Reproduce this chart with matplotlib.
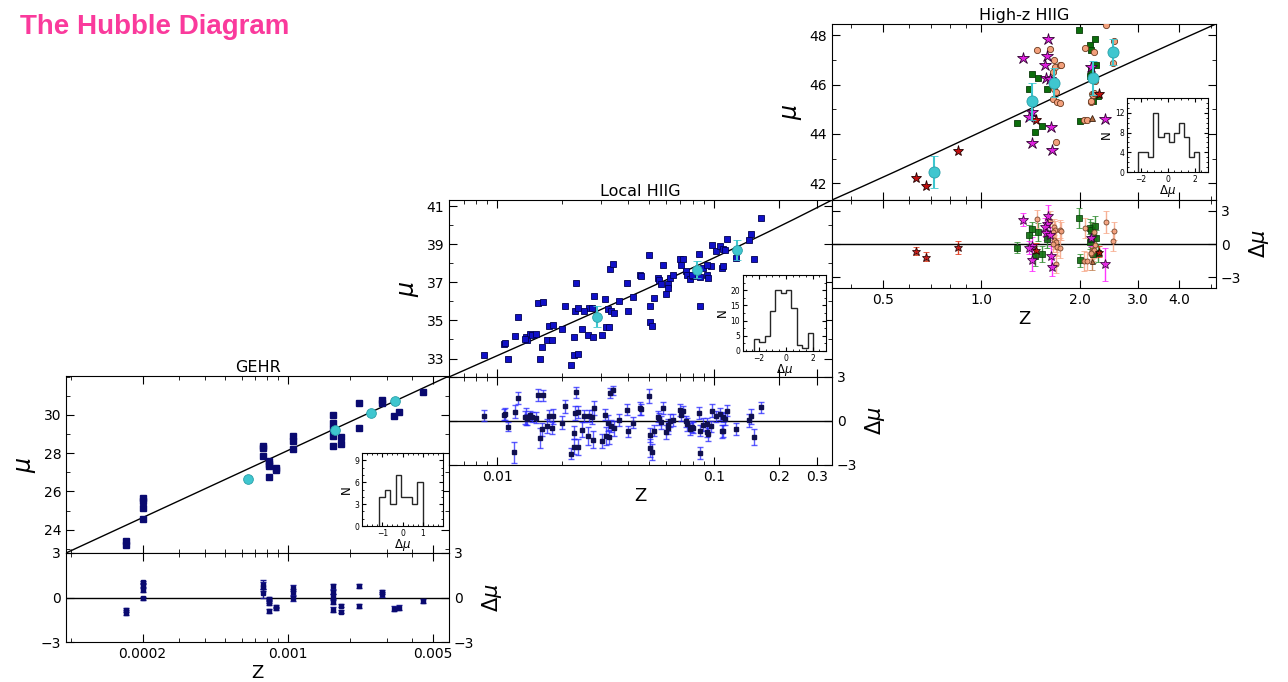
'''
The Hubble Diagram: GEHR, local HIIG and high-z HIIG distance moduli vs redshift,
with residuals and residual histograms.
'''

import numpy as np
import matplotlib.pyplot as plt
from matplotlib.ticker import (FixedLocator, FixedFormatter, LogLocator,
                               NullFormatter, MultipleLocator)

plt.rcParams['font.family'] = ['DejaVu Sans']

# -- GEHR -- #
z_gehr = [1.667e-4, 1.667e-4, 2.0e-4, 2.0e-4, 2.0e-4, 2.0e-4, 7.6e-4, 7.6e-4, 7.6e-4,
          8.13e-4, 8.13e-4, 8.13e-4, 8.13e-4, 8.75e-4, 8.75e-4, 1.061e-3, 1.061e-3, 1.061e-3,
          1.648e-3, 1.648e-3, 1.648e-3, 1.648e-3, 1.648e-3, 1.808e-3, 1.808e-3,
          2.215e-3, 2.215e-3, 2.85e-3, 2.85e-3, 3.27e-3, 3.45e-3, 4.52e-3]
mu_gehr = [23.39, 23.22, 25.65, 25.48, 25.13, 24.57, 28.38, 28.26, 27.83,
           27.57, 27.44, 27.34, 26.78, 27.22, 27.10, 28.90, 28.64, 28.21,
           29.97, 29.57, 29.27, 28.92, 28.40, 28.87, 28.47,
           30.64, 29.30, 30.78, 30.61, 29.95, 30.14, 31.18]
err_gehr = [0.15, 0.15, 0.12, 0.12, 0.12, 0.12, 0.30, 0.30, 0.30,
            0.15, 0.15, 0.15, 0.15, 0.12, 0.12, 0.18, 0.18, 0.18,
            0.15, 0.15, 0.15, 0.15, 0.15, 0.12, 0.12,
            0.12, 0.12, 0.15, 0.15, 0.15, 0.15, 0.15]
z_gehr_bin = [6.41e-4, 1.698e-3, 2.53e-3, 3.30e-3]
mu_gehr_bin = [26.66, 29.22, 30.09, 30.70]

# -- local HIIG -- #
z_local = [0.00867, 0.01081, 0.01089, 0.01119, 0.01211, 0.01247, 0.01352, 0.01374, 0.01413, 0.01452,
           0.0151, 0.01549, 0.01626, 0.0157, 0.01611, 0.01734, 0.01807, 0.01698, 0.01799, 0.02061,
           0.01995, 0.02183, 0.02259, 0.0236, 0.02254, 0.0228, 0.0236, 0.02317, 0.02472, 0.02624,
           0.02754, 0.02786, 0.02655, 0.02748, 0.03048, 0.03133, 0.03192, 0.03273, 0.03251, 0.03365,
           0.03451, 0.03304, 0.03428, 0.03639, 0.0399, 0.04018, 0.04236, 0.0455, 0.04603, 0.05023,
           0.05058, 0.05058, 0.052, 0.05284, 0.05534, 0.0560, 0.05689, 0.05794, 0.06039, 0.06109,
           0.06266, 0.06486, 0.06966, 0.07211, 0.07015, 0.0743, 0.07534, 0.07745, 0.08017, 0.08551,
           0.0860, 0.0861, 0.08933, 0.09311, 0.09419, 0.0966, 0.09817, 0.1019, 0.1067, 0.1096,
           0.1125, 0.1084, 0.1104, 0.1146, 0.1265, 0.1455, 0.1483, 0.1521, 0.1648, 0.01346,
           0.02506, 0.06124, 0.07889, 0.09247, 0.0120]
mu_local = [33.19, 33.75, 33.81, 33.00, 34.19, 35.20, 34.11, 33.96, 34.28, 34.25,
            34.28, 35.90, 35.95, 32.96, 33.63, 34.72, 34.77, 33.98, 33.98, 35.74,
            34.55, 32.64, 33.19, 33.23, 34.14, 35.51, 35.65, 36.96, 34.55, 34.25,
            34.11, 36.27, 35.64, 35.64, 34.23, 36.10, 34.67, 34.67, 35.60, 35.48,
            35.37, 37.71, 37.94, 36.04, 36.98, 35.51, 36.22, 37.36, 37.31, 38.42,
            35.78, 34.90, 34.69, 36.18, 37.24, 37.10, 36.92, 37.93, 36.39, 36.89,
            37.24, 37.36, 38.21, 38.21, 37.89, 37.57, 37.40, 37.15, 37.33, 38.47,
            37.27, 35.78, 37.77, 37.40, 37.24, 37.84, 38.95, 38.65, 38.91, 38.77,
            38.72, 37.77, 37.84, 39.30, 38.30, 39.21, 39.53, 38.21, 40.39, 34.05,
            35.51, 36.71, 37.36, 37.89, 31.40]
err_local = [0.38, 0.35, 0.42, 0.30, 0.45, 0.40, 0.55, 0.38, 0.33, 0.36,
             0.40, 0.42, 0.38, 0.70, 0.45, 0.35, 0.50, 0.48, 0.40, 0.45,
             0.42, 0.40, 0.50, 0.55, 0.44, 0.46, 0.40, 0.38, 0.52, 0.60,
             0.55, 0.48, 0.40, 0.45, 0.50, 0.36, 0.60, 0.48, 0.52, 0.44,
             0.50, 0.35, 0.30, 0.42, 0.40, 0.38, 0.36, 0.45, 0.40, 0.48,
             0.50, 0.62, 0.55, 0.40, 0.38, 0.42, 0.45, 0.40, 0.46, 0.38,
             0.44, 0.40, 0.42, 0.36, 0.40, 0.38, 0.45, 0.40, 0.35, 0.42,
             0.38, 0.40, 0.45, 0.40, 0.44, 0.40, 0.42, 0.38, 0.40, 0.36,
             0.40, 0.45, 0.42, 0.38, 0.40, 0.44, 0.50, 0.55, 0.40, 0.45,
             0.42, 0.40, 0.38, 0.40, 0.70]
z_local_bin = [0.0289, 0.0832, 0.1273]
mu_local_bin = [35.20, 37.66, 38.68]
err_local_bin = [0.55, 0.45, 0.53]

# -- high-z HIIG -- #
z_red = [0.631, 0.678, 0.845, 1.462, 2.28]
mu_red = [42.22, 41.90, 43.33, 44.57, 45.63]
err_red = [0.35, 0.40, 0.55, 0.60, 0.50]

z_mag = [1.596, 1.343, 1.588, 1.562, 1.577, 1.614, 1.422, 1.396, 1.422, 1.633, 1.637, 2.165, 2.388]
mu_mag = [47.86, 47.08, 47.16, 46.81, 46.28, 46.24, 44.91, 44.68, 43.64, 44.30, 43.37, 46.71, 44.61]
err_mag = [1.0, 0.6, 0.7, 0.8, 0.6, 0.7, 0.8, 0.6, 1.0, 0.9, 0.8, 0.7, 1.5]

z_green = [1.98, 2.14, 2.165, 2.218, 2.23, 2.137, 2.165, 2.27, 2.19, 2.0,
           1.43, 1.486, 1.396, 1.588, 1.287, 1.525, 1.456]
mu_green = [48.23, 47.59, 47.39, 47.84, 46.81, 46.35, 46.61, 45.53, 45.33, 44.51,
            46.44, 46.27, 45.81, 45.81, 44.44, 44.34, 44.07]
err_green = [0.9, 0.8, 0.8, 0.9, 0.7, 0.7, 0.7, 0.8, 0.8, 0.6,
             0.6, 0.8, 0.9, 0.8, 0.5, 0.7, 0.9]

z_salmon = [1.479, 1.617, 1.663, 1.675, 1.73, 1.75, 1.652, 1.663, 1.69, 1.652, 1.70, 1.74, 1.69,
            2.066, 2.2, 2.218, 2.17, 2.19, 2.21, 2.15, 2.16, 2.06, 2.10, 2.405, 2.52, 2.53]
mu_salmon = [47.39, 47.43, 47.01, 46.71, 46.81, 46.78, 46.51, 45.81, 45.70, 45.43, 45.29, 45.27, 43.69,
             47.49, 47.32, 46.13, 45.62, 45.58, 45.65, 45.29, 45.33, 44.55, 44.57, 48.41, 46.88, 47.77]
err_salmon = [0.8, 0.9, 0.7, 0.8, 0.9, 0.8, 0.7, 0.8, 0.9, 0.7, 0.8, 0.9, 0.8,
              0.9, 0.8, 0.7, 0.8, 0.9, 0.7, 0.8, 0.8, 0.9, 0.8, 1.0, 0.9, 0.8]

z_tri = [2.17]
mu_tri = [44.64]
err_tri = [0.8]

z_high_bin = [0.718, 1.422, 1.663, 2.185, 2.52]
mu_high_bin = [42.47, 45.32, 46.08, 46.27, 47.32]
err_high_bin = [0.64, 0.75, 0.58, 0.70, 0.54]

# -- residual histograms -- #
edges_gehr = [-1.15, -0.88, -0.61, -0.34, -0.07, 0.20, 0.47, 0.74, 1.01]
counts_gehr = [4, 5, 3, 7, 4, 4, 3, 6]
edges_local = [-2.38, -1.98, -1.58, -1.18, -0.78, -0.38, 0.02, 0.42, 0.82, 1.22, 1.62, 2.02]
counts_local = [4, 3, 5, 13, 20, 19, 20, 14, 2, 1, 6]
edges_high = [-2.19, -1.81, -1.43, -1.05, -0.67, -0.29, 0.09, 0.47, 0.85, 1.23, 1.61, 1.99, 2.37]
counts_high = [4, 4, 3, 12, 7, 8, 6, 8, 10, 7, 3, 4]

# -- model: flat LCDM distance modulus -- #
c_kms = 299792.458
H0 = 71.0
Om = 0.28
zg = np.concatenate([[0.0], np.logspace(-6, 0.8, 6000)])
invE = 1.0 / np.sqrt(Om * (1 + zg)**3 + (1 - Om))
dc = np.concatenate([[0.0], np.cumsum(0.5 * (invE[1:] + invE[:-1]) * np.diff(zg))]) * c_kms / H0


def mu_model(z):
    z = np.asarray(z, dtype=float)
    return 5 * np.log10(np.interp(z, zg, dc) * (1 + z)) + 25


def resid(z, mu):
    return np.asarray(mu) - mu_model(z)


W, H = 1288.0, 682.0


def rect(x0, y0, x1, y1):
    return [x0 / W, 1 - y1 / H, (x1 - x0) / W, (y1 - y0) / H]


def style(ax, size=10):
    ax.tick_params(which='both', direction='in', top=True, right=True, labelsize=size)
    ax.tick_params(which='major', length=6, width=0.8)
    ax.tick_params(which='minor', length=3, width=0.6)


def log_x(ax, zlim, ticks, labels):
    ax.set_xscale('log')
    ax.set_xlim(zlim)
    ax.xaxis.set_major_locator(FixedLocator(ticks))
    ax.xaxis.set_major_formatter(FixedFormatter(labels))
    ax.xaxis.set_minor_locator(LogLocator(base=10, subs=np.arange(2, 10)))
    ax.xaxis.set_minor_formatter(NullFormatter())


def panel(r_main, r_res, zlim, xticks, xlabels, yticks, title, res_lim, left_labels):
    axm = fig.add_axes(rect(*r_main))
    axr = fig.add_axes(rect(*r_res))
    for ax in (axm, axr):
        log_x(ax, zlim, xticks, xlabels)
        style(ax)
    zz = np.logspace(np.log10(zlim[0]), np.log10(zlim[1]), 400)
    axm.plot(zz, mu_model(zz), 'k-', lw=1, zorder=2)
    axm.set_ylim(mu_model(zlim[0]), mu_model(zlim[1]))
    axm.set_yticks(yticks)
    axm.yaxis.set_minor_locator(MultipleLocator(1))
    axm.tick_params(labelbottom=False)
    axm.set_ylabel(r'$\mu$', fontsize=17, labelpad=4)
    axm.set_title(title, fontsize=11.5, pad=3)

    axr.axhline(0, color='k', lw=1, zorder=1)
    axr.set_ylim(res_lim)
    axr.set_yticks([-3, 0, 3])
    axr.tick_params(labelleft=left_labels, labelright=True)
    axr.yaxis.set_label_position('right')
    axr.set_ylabel(r'$\Delta\mu$', fontsize=15, labelpad=4)
    axr.set_xlabel('Z', fontsize=13, labelpad=2)
    return axm, axr


def inset(r, counts, edges, xlim, ylim, xticks, yticks, xminor, yminor):
    ax = fig.add_axes(rect(*r))
    ax.stairs(counts, edges, color='0.15', lw=1.0)
    ax.set_xlim(xlim)
    ax.set_ylim(ylim)
    ax.set_xticks(xticks)
    ax.set_yticks(yticks)
    ax.xaxis.set_minor_locator(MultipleLocator(xminor))
    ax.yaxis.set_minor_locator(MultipleLocator(yminor))
    ax.tick_params(which='both', direction='in', top=True, right=True, labelsize=5.5, pad=2)
    ax.tick_params(which='major', length=3)
    ax.tick_params(which='minor', length=1.5)
    ax.set_xlabel(r'$\Delta\mu$', fontsize=8.5, labelpad=-0.5)
    ax.set_ylabel('N', fontsize=8.5, labelpad=1)
    return ax


fig = plt.figure(figsize=(12.88, 6.82), dpi=100)

fig.text(20 / W, 1 - 27 / H, 'The Hubble Diagram', fontsize=20, fontweight='bold',
         color='#fa3a9c', family=['Liberation Sans', 'DejaVu Sans'], va='center', ha='left')

cyan = '#3fc6cf'

# GEHR
axm, axr = panel((66, 376, 449, 553), (66, 553, 449, 642), (8.55e-5, 0.006),
                 [0.0002, 0.001, 0.005], ['0.0002', '0.001', '0.005'],
                 [24, 26, 28, 30], 'GEHR', (-3, 3), True)
axm.plot(z_gehr, mu_gehr, 's', ms=4, color='#0a0a70', zorder=3)
axm.plot(z_gehr_bin, mu_gehr_bin, 'o', ms=7, mfc=cyan, mec='#2aa0a8', mew=0.6, zorder=4)
axr.errorbar(z_gehr, resid(z_gehr, mu_gehr), yerr=err_gehr, fmt='s', ms=3,
             color='#0a0a70', ecolor='#1a1a90', elinewidth=1, capsize=2, zorder=3)
inset((362, 453, 443, 526), counts_gehr, edges_gehr, (-2, 2), (0, 10),
      [-1, 0, 1], [0, 3, 6, 9], 0.25, 1)

# local HIIG
axm, axr = panel((449, 200, 832, 377), (449, 377, 832, 465), (0.006, 0.35),
                 [0.01, 0.1, 0.2, 0.3], ['0.01', '0.1', '0.2', '0.3'],
                 [33, 35, 37, 39, 41], 'Local HIIG', (-3, 3), False)
axm.plot(z_local, mu_local, 's', ms=4, mfc='#1010c8', mec='#000050', mew=0.6, zorder=3)
axm.errorbar(z_local_bin, mu_local_bin, yerr=err_local_bin, fmt='o', ms=7, mfc=cyan,
             mec='#2aa0a8', mew=0.6, ecolor=cyan, elinewidth=1.5, capsize=3, zorder=4)
axr.errorbar(z_local, resid(z_local, mu_local), yerr=err_local, fmt='s', ms=3,
             color='#101050', ecolor=(0.15, 0.15, 1.0, 0.75), elinewidth=1, capsize=2.5, zorder=3)
inset((743, 275, 826, 351), counts_local, edges_local, (-3.2, 3.0), (0, 25),
      [-2, 0, 2], [0, 5, 10, 15, 20], 0.5, 2.5)

# high-z HIIG
axm, axr = panel((832, 24, 1216, 200), (832, 200, 1216, 288), (0.35, 5.19),
                 [0.5, 1.0, 2.0, 3.0, 4.0], ['0.5', '1.0', '2.0', '3.0', '4.0'],
                 [42, 44, 46, 48], 'High-z HIIG', (-3.95, 3.95), False)

groups = [
    (z_green, mu_green, err_green, 's', 5, '#0c6e0c', '#0a3a0a', '#2e8b2e'),
    (z_salmon, mu_salmon, err_salmon, 'o', 4.5, '#f3a07c', '#6a3a20', '#f7a98a'),
    (z_tri, mu_tri, err_tri, '^', 4.5, '#b06a40', '#3a2010', '#c08050'),
    (z_mag, mu_mag, err_mag, '*', 9, '#e020e0', '#300030', '#ff20ff'),
    (z_red, mu_red, err_red, '*', 8, '#c01010', '#200000', '#e03010'),
]
for z, mu, err, mk, ms, fc, ec, errc in groups:
    axm.plot(z, mu, mk, ms=ms, mfc=fc, mec=ec, mew=0.6, zorder=3)
    axr.errorbar(z, resid(z, mu), yerr=err, fmt=mk, ms=ms * 0.8, mfc=fc, mec=ec, mew=0.6,
                 ecolor=errc, elinewidth=1, capsize=2.5, alpha=0.9, zorder=3)
axm.errorbar(z_high_bin, mu_high_bin, yerr=err_high_bin, fmt='o', ms=8, mfc=cyan,
             mec='#2aa0a8', mew=0.6, ecolor=cyan, elinewidth=1.5, capsize=3, zorder=4)
inset((1127, 98, 1208, 172), counts_high, edges_high, (-3, 3), (0, 15),
      [-2, 0, 2], [0, 4, 8, 12], 0.5, 1)

plt.savefig('out.png', dpi=100)
plt.close()
